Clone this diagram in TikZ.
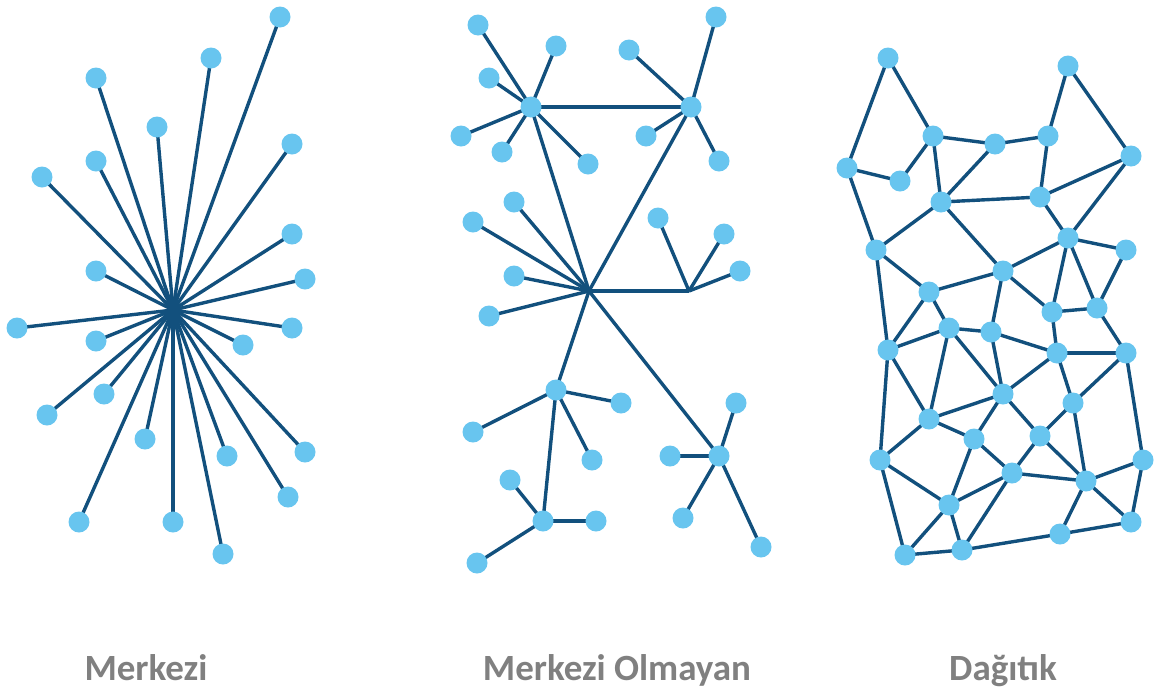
\documentclass[tikz,border=0pt]{standalone}
\usepackage{fontspec}
\setmainfont{Carlito}
\usetikzlibrary{backgrounds}
\definecolor{edgeblue}{RGB}{18,80,125}
\definecolor{dotblue}{RGB}{104,197,239}
\definecolor{labelgray}{RGB}{128,128,128}
\tikzset{
  dot/.style={circle,fill=dotblue,draw=none,minimum size=21pt,inner sep=0pt},
  link/.style={draw=edgeblue,line width=3.4pt},
  caption/.style={text=labelgray,font=\bfseries\fontsize{37}{42}\selectfont,anchor=base}
}
\begin{document}
\begin{tikzpicture}[x=1pt,y=-1pt]
\useasboundingbox (0,0) rectangle (1155,694);

% ---------- centralised network ----------
\coordinate (hub) at (173,310);
\foreach \n/\p in {m1/{(280,17)},m2/{(211,58)},m3/{(96,78)},m4/{(157,127)},
  m5/{(292,144)},m6/{(96,161)},m7/{(42,177)},m8/{(292,234)},m9/{(96,271)},
  m10/{(305,279)},m11/{(17,328)},m12/{(96,341)},m13/{(292,328)},m14/{(243,345)},
  m15/{(47,415)},m16/{(104,394)},m17/{(145,439)},m18/{(227,456)},m19/{(305,452)},
  m20/{(288,497)},m21/{(79,522)},m22/{(173,522)},m23/{(223,554)}}
{
  \node[dot] (\n) at \p {};
  \begin{scope}[on background layer]
    \draw[link] (hub) -- (\n.center);
  \end{scope}
}

% ---------- decentralised network ----------
\node[dot] (A) at (531,107) {};
\node[dot] (B) at (691,107) {};
\coordinate (C) at (589,291);
\coordinate (D) at (689,291);
\node[dot] (E) at (556,390) {};
\node[dot] (F) at (543,521) {};
\node[dot] (G) at (719,456) {};
\foreach \n/\p/\h in {a1/{(478,25)}/A,a2/{(556,46)}/A,a3/{(489,78)}/A,a4/{(461,136)}/A,
  a5/{(502,152)}/A,a6/{(588,164)}/A,
  b1/{(716,17)}/B,b2/{(629,50)}/B,b3/{(646,136)}/B,b4/{(719,161)}/B,
  c1/{(514,202)}/C,c2/{(473,222)}/C,c3/{(514,276)}/C,c4/{(489,316)}/C,
  d1/{(658,218)}/D,d2/{(724,234)}/D,d3/{(740,271)}/D,
  e1/{(621,403)}/E,e2/{(473,432)}/E,e3/{(592,460)}/E,
  f1/{(510,480)}/F,f2/{(596,521)}/F,f3/{(477,563)}/F,
  g1/{(736,403)}/G,g2/{(670,456)}/G,g3/{(683,518)}/G,g4/{(761,547)}/G}
{
  \node[dot] (\n) at \p {};
  \begin{scope}[on background layer]
    \draw[link] (\h.center) -- (\n.center);
  \end{scope}
}
\begin{scope}[on background layer]
  \draw[link] (A.center) -- (B.center);
  \draw[link] (A.center) -- (C);
  \draw[link] (B.center) -- (C);
  \draw[link] (C) -- (D);
  \draw[link] (C) -- (E.center);
  \draw[link] (E.center) -- (F.center);
  \draw[link] (C) -- (G.center);
\end{scope}

% ---------- distributed network ----------
\foreach \n/\p in {n1/{(888,58)},n2/{(1068,66)},n3/{(933,136)},n4/{(995,144)},
  n5/{(1048,136)},n6/{(1131,156)},n7/{(847,168)},n8/{(900,181)},n9/{(941,202)},
  n10/{(1040,197)},n11/{(1068,238)},n12/{(1126,250)},n13/{(876,250)},
  n14/{(1003,271)},n15/{(929,292)},n16/{(1052,312)},n17/{(1097,308)},
  n18/{(949,328)},n19/{(991,332)},n20/{(888,350)},n21/{(1057,353)},
  n22/{(1126,353)},n23/{(1003,394)},n24/{(1073,403)},n25/{(929,419)},
  n26/{(974,439)},n27/{(1040,436)},n28/{(880,460)},n29/{(1143,460)},
  n30/{(1012,473)},n31/{(1086,481)},n32/{(949,505)},n33/{(1131,522)},
  n34/{(1060,534)},n35/{(905,555)},n36/{(962,550)}}
{
  \node[dot] (\n) at \p {};
}
\begin{scope}[on background layer]
\foreach \u/\v in {n1/n7,n1/n3,n2/n5,n2/n6,n3/n4,n4/n5,n3/n8,n7/n8,n3/n9,n4/n9,
  n5/n10,n9/n10,n10/n6,n6/n11,n10/n11,n7/n13,n9/n13,n9/n14,n11/n12,n13/n15,
  n15/n14,n14/n11,n13/n20,n15/n20,n15/n18,n14/n19,n14/n16,n11/n16,n11/n17,
  n12/n17,n16/n17,n18/n19,n18/n20,n18/n25,n18/n23,n19/n21,n19/n23,n16/n21,
  n17/n22,n21/n22,n21/n23,n21/n24,n22/n24,n20/n25,n20/n28,n23/n25,n23/n26,
  n23/n27,n25/n26,n24/n27,n24/n31,n26/n30,n26/n32,n27/n30,n27/n31,n22/n29,
  n28/n32,n28/n35,n30/n31,n30/n32,n30/n36,n31/n29,n31/n33,n31/n34,n29/n33,
  n32/n35,n32/n36,n35/n36,n36/n34,n33/n34,n25/n28}
{
  \draw[link] (\u.center) -- (\v.center);
}
\end{scope}

% ---------- captions ----------
\node[caption] (l1) at (146,680) {Merkezi};
\node[caption] (l2) at (617,680) {Merkezi Olmayan};
\node[caption] (l3) at (1003,680) {Dağıtık};
\end{tikzpicture}
\end{document}
